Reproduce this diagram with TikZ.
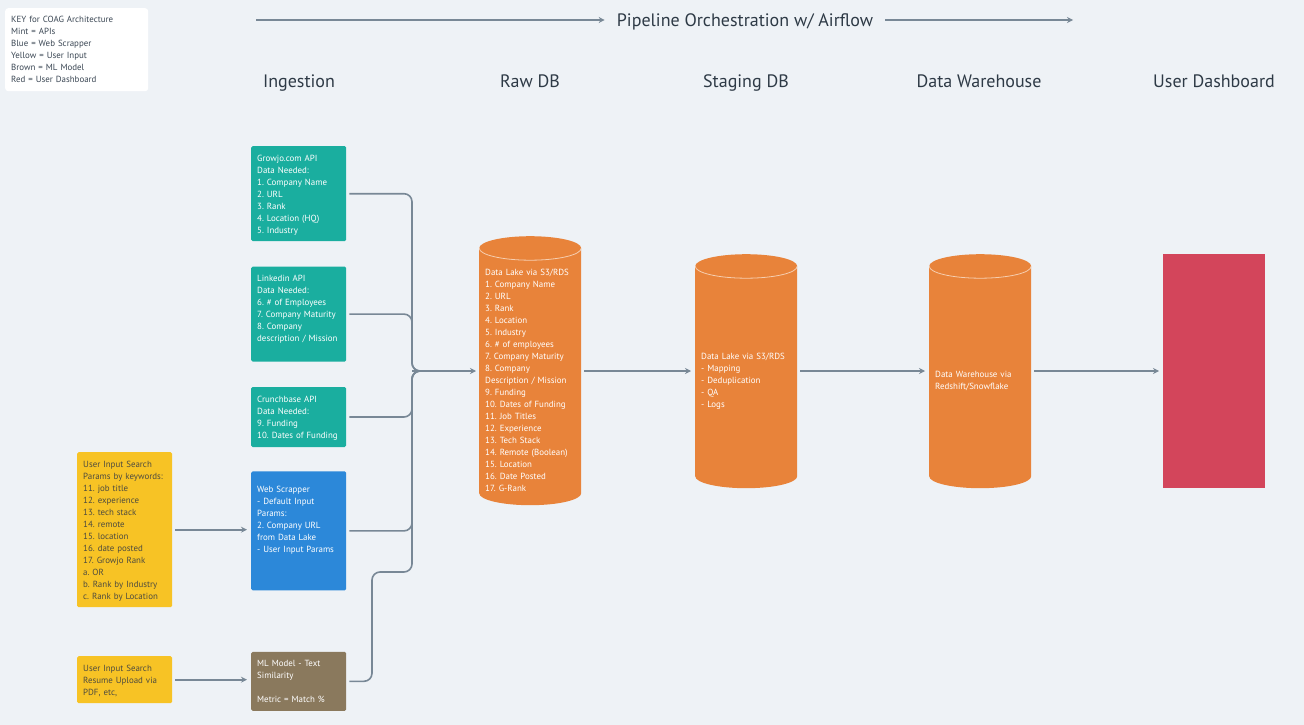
\documentclass[tikz,border=0pt]{standalone}
\usepackage{fontspec}
\setmainfont{PT Sans}
\frenchspacing
\usetikzlibrary{positioning,arrows.meta}
\definecolor{bgcol}{HTML}{EEF2F6}
\definecolor{mint}{HTML}{1AAE9F}
\definecolor{scrapblue}{HTML}{2C88D9}
\definecolor{inputyellow}{HTML}{F7C325}
\definecolor{mlbrown}{HTML}{8A795D}
\definecolor{dborange}{HTML}{E8833A}
\definecolor{dashred}{HTML}{D3455B}
\definecolor{linecol}{HTML}{788896}
\definecolor{headcol}{HTML}{2E3A46}
\definecolor{keytext}{HTML}{3B4754}
\definecolor{yellowtext}{HTML}{4D4B3F}

\tikzset{
  box/.style={rounded corners=1.5pt, inner xsep=6pt, inner ysep=0pt, text width=83pt,
    align=left, anchor=north west, text height=15pt,
    font=\fontsize{8.9}{12}\selectfont, text=white},
  api/.style={box, fill=mint},
  scrap/.style={box, fill=scrapblue},
  userin/.style={box, fill=inputyellow, text=yellowtext},
  mlbox/.style={box, fill=mlbrown},
  dbcyl/.style={inner xsep=6pt, inner ysep=0pt, text width=90pt, align=left,
    anchor=north west, font=\fontsize{8.9}{12}\selectfont, text=white,
    path picture={
      \fill[dborange] ([yshift=-12pt]path picture bounding box.north west)
        -- ([yshift=12pt]path picture bounding box.south west)
        arc[start angle=180, end angle=360, x radius=51pt, y radius=12pt]
        -- ([yshift=-12pt]path picture bounding box.north east)
        arc[start angle=0, end angle=180, x radius=51pt, y radius=12pt] -- cycle;
      \draw[white!60!dborange, line width=0.8pt]
        ([yshift=-12pt]path picture bounding box.north west)
        arc[start angle=180, end angle=360, x radius=51pt, y radius=12pt];
    }},
  head/.style={font=\fontsize{18}{20}\selectfont, text=headcol, anchor=base},
  conn/.style={draw=linecol, line width=1.6pt},
}

\begin{document}
\begin{tikzpicture}[x=1pt, y=-1pt, >={Stealth[length=6pt, width=6pt]}]
\fill[bgcol] (0,0) rectangle (1304,725);
\useasboundingbox (0,0) rectangle (1304,725);

% key
\node[box, fill=white, rounded corners=3pt, text width=131pt, text=keytext, text height=14pt, text depth=69pt] (key) at (5,8) {KEY for COAG Architecture\\Mint = APIs\\Blue = Web Scrapper\\Yellow = User Input\\Brown = ML Model\\Red = User Dashboard};

% orchestration arrow
\node[head, inner xsep=12pt] (orch) at (745,26.5) {Pipeline Orchestration w/ Airflow};
\coordinate (orchstart) at (256,20);
\coordinate (orchend) at (1073,20);
\draw[conn, line width=1.4pt, ->] (orchstart) -- (orchstart -| orch.west);
\draw[conn, line width=1.4pt, ->] (orchend -| orch.east) -- (orchend);

% column heads
\node[head] (hingest) at (299,87.5) {Ingestion};
\node[head] (hraw) at (530,87.5) {Raw DB};
\node[head] (hstage) at (746,87.5) {Staging DB};
\node[head] (hdw) at (979,87.5) {Data Warehouse};
\node[head] (hdash) at (1214,87.5) {User Dashboard};

% ingestion
\node[api, text depth=80pt] (growjo) at (251,146) {Growjo.com API\\Data Needed:\\1. Company Name\\2. URL\\3. Rank\\4. Location (HQ)\\5. Industry};
\node[api, text depth=80pt, below=25pt of growjo] (linkedin) {Linkedin API\\Data Needed:\\6. \# of Employees\\7. Company Maturity\\8. Company\\description / Mission};
\node[api, text depth=45pt, below=25pt of linkedin] (crunch) {Crunchbase API\\Data Needed:\\9. Funding\\10. Dates of Funding};
\node[scrap, text height=21pt, text depth=98pt, below=24pt of crunch] (webscrap) {Web Scrapper\\- Default Input\\Params:\\2. Company URL\\from Data Lake\\- User Input Params};
\node[mlbox, text depth=44pt, below=61pt of webscrap] (mlmodel) {ML Model - Text\\Similarity\\[12pt]Metric = Match \%};

% user input
\node[userin, text depth=140pt] (search) at (77,452) {User Input Search\\Params by keywords:\\11. job title\\12. experience\\13. tech stack\\14. remote\\15. location\\16. date posted\\17. Growjo Rank\\a. OR\\b. Rank by Industry\\c. Rank by Location};
\node[userin, text depth=32pt] (resume) at (77,656) {User Input Search\\Resume Upload via\\PDF, etc,};

% databases
\node[dbcyl, text height=39pt, text depth=230pt] (raw) at (479,236) {Data Lake via S3/RDS\\1. Company Name\\2. URL\\3. Rank\\4. Location\\5. Industry\\6. \# of employees\\7. Company Maturity\\8. Company\\Description / Mission\\9. Funding\\10. Dates of Funding\\11. Job Titles\\12. Experience\\13. Tech Stack\\14. Remote (Boolean)\\15. Location\\16. Date Posted\\17. G-Rank};
\node[dbcyl, text height=105pt, text depth=129pt] (staging) at (695,254) {Data Lake via S3/RDS\\- Mapping\\- Deduplication\\- QA\\- Logs};
\node[dbcyl, text height=123pt, text depth=111pt] (dw) at (929,254) {Data Warehouse via\\Redshift/Snowflake};
\node[fill=dashred, inner sep=0pt, minimum width=102pt, minimum height=234pt, anchor=north west] (dash) at (1163,254) {};

% connectors
\coordinate (hub) at (412,371);
\coordinate (mlbend) at (372,572);
\draw[conn, rounded corners=8pt, shorten <=3pt] (growjo.east) -| (hub) -- ++(20,0);
\draw[conn, rounded corners=8pt, shorten <=3pt] (linkedin.east) -| (hub) -- ++(20,0);
\draw[conn, rounded corners=8pt, shorten <=3pt] (crunch.east) -| (hub) -- ++(20,0);
\draw[conn, rounded corners=8pt, shorten <=3pt] (webscrap.east) -| (hub) -- ++(20,0);
\draw[conn, rounded corners=8pt, shorten <=3pt] (mlmodel.east) -| (mlbend) -| (hub) -- ++(20,0);
\draw[conn, ->, shorten >=3pt] (hub) -- (raw.west |- hub);
\draw[conn, ->, shorten <=3pt, shorten >=4pt] (search.east) -- (search.east -| webscrap.west);
\draw[conn, ->, shorten <=3pt, shorten >=4pt] (resume.east) -- (resume.east -| mlmodel.west);
\draw[conn, ->, shorten <=3pt, shorten >=4pt] (raw.east |- hub) -- (staging.west |- hub);
\draw[conn, ->, shorten <=3pt, shorten >=4pt] (staging.east |- hub) -- (dw.west |- hub);
\draw[conn, ->, shorten <=3pt, shorten >=4pt] (dw.east |- hub) -- (dash.west |- hub);
\end{tikzpicture}
\end{document}
